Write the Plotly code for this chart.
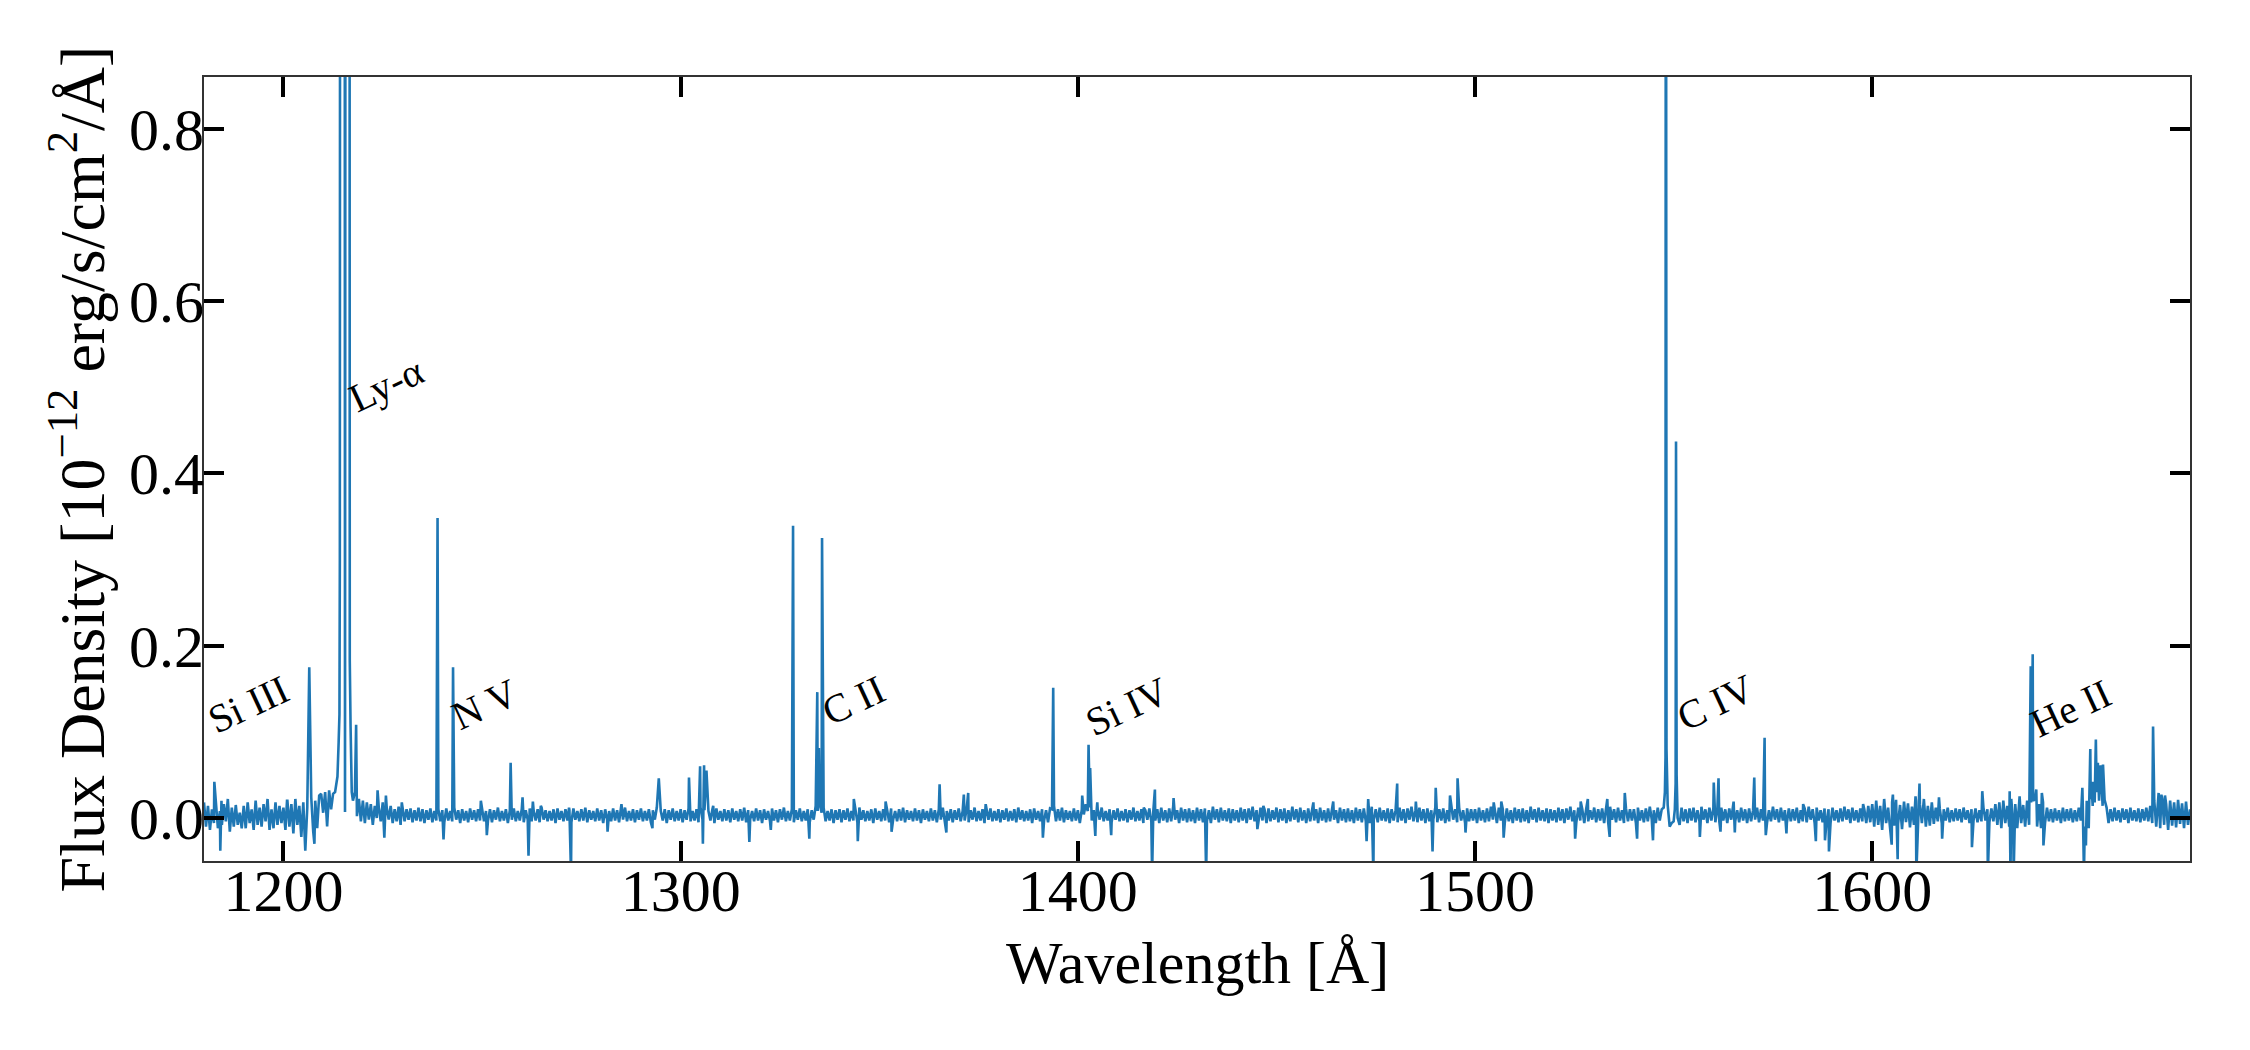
import numpy as np
import plotly.graph_objects as go

# ---------------- data (flux in 10^-12 erg/s/cm^2/A) ----------------
# continuum sampled every 0.5 A from 1180 to 1680 (20 samples per row = 10 A),
# values in units of 10^-15 erg/s/cm^2/A
grid_start = 1180.0
grid_step = 0.5
baseline_1e15 = [
    18, -10, 14, -14, 10, -6, 20, -12, 8, -8, 16, -4, 22, -16, 12, -10, 15, -8, 6, -12,          # 1180
    14, -12, 18, -6, 10, -14, 20, -8, 12, -10, 16, -4, 22, -14, 10, -12, 18, -8, 14, -6,         # 1190
    12, -14, 20, -10, 16, -18, 22, -8, 14, -22, 18, -38, 12, 175, 24, -16, 20, -12, 26, 28,      # 1200
    6, 30, -10, 32, 10, 28, 30, 45, 100, 1200, 1400, 7, 2000, 2000, 70, 20, 30, 2, 22, -4,       # 1210
    20, -6, 18, -2, 16, -8, 14, 0, 12, -4, 18, -10, 12, -2, 14, -6, 10, -4, 13, -8,              # 1220
    12, -4, 10, -2, 11, -5, 9, -3, 12, -4, 10, -6, 9, -2, 11, -5, 8, -3, 10, -4,                 # 1230
    9, -5, 11, -3, 8, -4, 12, -2, 9, -6, 10, -3, 8, -5, 11, -2, 9, -4, 10, -3,                   # 1240
    11, -4, 8, -3, 10, -5, 9, -2, 12, -4, 8, -3, 10, -6, 9, -2, 11, -4, 8, -3,                   # 1250
    10, -5, 9, -2, 11, -4, 8, -3, 10, -5, 12, -2, 9, -4, 8, -3, 10, -6, 11, -2,                  # 1260
    8, -4, 10, -3, 9, -5, 11, -2, 8, -4, 10, -3, 12, -5, 9, -2, 8, -4, 11, -3,                   # 1270
    9, -6, 10, -2, 8, -4, 11, -3, 9, -5, 10, -2, 12, -4, 8, -3, 10, -5, 9, -2,                   # 1280
    11, -4, 8, -3, 10, -5, 9, -2, 12, 46, 8, -3, 10, -6, 9, -2, 11, -4, 8, -3,                   # 1290
    10, -5, 9, -2, 11, -4, 8, -3, 10, -5, 12, -2, 9, 55, 8, -3, 10, -6, 11, -2,                  # 1300
    8, -4, 10, -3, 9, -5, 11, -2, 8, -4, 10, -3, 12, -5, 9, -2, 8, -4, 11, -3,                   # 1310
    9, -6, 10, -2, 8, -4, 11, -3, 9, -5, 10, -2, 12, -4, 8, -3, 10, -5, 9, -2,                   # 1320
    11, -4, 8, -3, 10, -5, 9, -2, 14, 8, 16, 6, 12, -4, 8, -3, 10, -6, 9, -2,                    # 1330
    10, -5, 9, -2, 11, -4, 8, -3, 10, -5, 12, -2, 9, -4, 8, -3, 10, -6, 11, -2,                  # 1340
    8, -4, 10, -3, 9, -5, 11, -2, 8, -4, 10, -3, 12, -5, 9, -2, 8, -4, 11, -3,                   # 1350
    9, -6, 10, -2, 8, -4, 11, -3, 9, -5, 10, -2, 12, -4, 8, -3, 10, -5, 9, -2,                   # 1360
    11, -4, 8, -3, 10, -5, 9, -2, 12, -4, 8, -3, 10, -6, 9, -2, 11, -4, 8, -3,                   # 1370
    10, -5, 9, -2, 11, -4, 8, -3, 10, -5, 12, -2, 9, -4, 8, -3, 10, -6, 11, -2,                  # 1380
    8, -4, 10, -3, 9, -5, 11, 10, 14, -4, 10, -3, 12, -5, 9, -2, 8, -4, 11, -3,                  # 1390
    9, -6, 10, 4, 16, 8, 12, -3, 9, -5, 10, -2, 12, -4, 8, -3, 10, -5, 9, -2,                    # 1400
    11, -4, 8, -3, 10, -5, 9, -2, 12, -4, 8, -3, 10, -6, 9, -2, 11, -4, 8, -3,                   # 1410
    10, -6, 12, -3, 9, -5, 11, -4, 13, -2, 9, -6, 12, -3, 10, -5, 11, -4, 9, -6,                 # 1420
    12, -3, 10, -5, 11, -4, 9, -6, 13, -2, 10, -5, 12, -3, 9, -4, 11, -6, 10, -3,                # 1430
    9, -5, 12, -3, 10, -6, 11, -2, 13, -4, 9, -5, 12, -3, 10, -6, 11, -4, 9, -2,                 # 1440
    12, -5, 10, -3, 11, -6, 9, -4, 13, -2, 10, -5, 12, -3, 9, -6, 11, -4, 10, -3,                # 1450
    10, -6, 12, -3, 9, -5, 11, -4, 13, -2, 9, -6, 12, -3, 10, -5, 11, -4, 9, -6,                 # 1460
    12, -3, 10, -5, 11, -4, 9, -6, 13, -2, 10, -5, 12, -3, 9, -4, 11, -6, 10, -3,                # 1470
    9, -5, 12, -3, 10, -6, 11, -2, 13, -4, 9, -5, 12, -3, 10, -6, 11, -4, 9, -2,                 # 1480
    12, -5, 10, -3, 11, -6, 9, -4, 13, -2, 10, -5, 12, -3, 9, -6, 11, -4, 10, -3,                # 1490
    10, -6, 12, -3, 9, -5, 11, -4, 13, -2, 9, -6, 12, -3, 10, -5, 11, -4, 9, -6,                 # 1500
    12, -3, 10, -5, 11, -4, 9, -6, 13, -2, 10, -5, 12, -3, 9, -4, 11, -6, 10, -3,                # 1510
    9, -5, 12, -3, 10, -6, 11, -2, 13, -4, 9, -5, 12, -3, 10, -6, 11, -4, 9, -2,                 # 1520
    12, -5, 10, -3, 11, -6, 9, -4, 13, -2, 10, -5, 12, -3, 9, -6, 11, -4, 10, -3,                # 1530
    10, -6, 12, -3, 9, -5, 11, -4, 13, -2, 9, -6, 12, -3, 10, 12, 500, 15, -10, -6,              # 1540
    -4, 40, 0, -8, 12, -4, 10, -6, 11, -3, 12, -5, 9, -4, 13, -2, 10, -6, 12, -3,                # 1550
    11, -5, 9, -4, 12, -3, 10, -6, 11, -2, 13, -4, 9, -5, 12, -3, 10, -6, 11, -4,                # 1560
    9, -2, 12, -5, 10, -3, 11, -6, 9, -4, 13, -2, 10, -5, 12, -3, 9, -6, 11, -4,                 # 1570
    10, -3, 12, -6, 9, -4, 11, -5, 13, -2, 10, -6, 12, -3, 9, -5, 11, -4, 10, -6,                # 1580
    12, -3, 9, -5, 11, -4, 13, -2, 10, -6, 12, -3, 9, -5, 11, -4, 10, -6, 14, -5,                # 1590
    16, -10, 20, -8, 14, -14, 22, -6, 12, -12, 18, -9, 21, -7, 15, -13, 19, -5, 17, -11,         # 1600
    13, -8, 20, -12, 16, -6, 22, -10, 14, -9, 18, -7, 12, -4, 11, -6, 10, -3, 12, -5,            # 1610
    9, -4, 11, -3, 10, -5, 12, -2, 9, -6, 10, -3, 11, -5, 9, -4, 12, -3, 10, -5,                 # 1620
    11, -4, 16, -8, 18, -12, 20, -6, 14, -10, 22, -8, 16, -12, 18, -6, 15, -10, 20, -8,          # 1630
    18, 20, 22, -10, 16, -12, 18, -6, 12, -4, 10, -5, 11, -3, 9, -6, 12, -4, 10, -3,             # 1640
    11, -5, 9, -4, 12, -3, 16, -10, 20, -12, 22, 14, 18, 30, 24, 61, 14, 21, 12, -6,             # 1650
    10, -4, 12, -3, 9, -5, 11, -2, 10, -6, 12, -3, 9, -4, 11, -5, 10, -3, 12, -4,                # 1660
    14, -6, 20, -10, 18, -12, 22, -8, 16, -14, 20, -9, 18, -11, 21, -7, 17, -12, 19, -8,         # 1670
    10,                                                                                          # 1680
]

# Ly-alpha core (clipped by the axis), extra samples
lya_wave = [1213.3, 1213.6, 1213.9, 1214.1, 1214.2, 1214.25, 1214.3, 1214.35, 1214.4, 1214.45,
            1214.55, 1214.6, 1214.65, 1214.7, 1214.75, 1214.8, 1214.85, 1214.9, 1214.95, 1215.05,
            1215.1, 1215.15, 1215.2, 1215.25, 1215.3, 1215.38, 1215.62, 1215.7, 1215.75, 1215.8,
            1215.85, 1215.9, 1215.95, 1216.05, 1216.1, 1216.15, 1216.2, 1216.25, 1216.3, 1216.35,
            1216.4, 1216.45, 1216.55, 1216.6, 1216.7, 1216.9, 1217.2]
lya_flux = [0.04, 0.048, 0.088, 0.12, 0.3, 2.5, 1.0, 2.5, 1.2, 2.5,
            2.5, 1.0, 2.5, 1.0, 2.5, 1.2, 2.5, 1.0, 2.5, 2.5,
            1.0, 2.5, 1.2, 2.5, 1.5, 2.0, 2.0, 1.5, 2.5, 1.0,
            2.5, 1.0, 2.5, 2.5, 1.0, 2.5, 1.0, 2.5, 1.0, 2.5,
            1.2, 2.5, 1.0, 2.2, 0.183, 0.106, 0.03]

# C IV doublet, extra samples
civ_wave = [1547.8, 1547.95, 1548.05, 1548.2, 1548.4, 1550.3, 1550.6, 1550.75]
civ_flux = [0.03, 0.07, 1.6, 0.08, 0.02, 0.01, 0.437, 0.05]

# narrow emission lines and single-pixel spikes
spike_wave = [
    1182.6, 1184.1, 1184.4, 1200.9, 1207.8,
    1218.3, 1223.7, 1225.4, 1225.8, 1229.8, 1238.8, 1240.3, 1242.7, 1249.7, 1251.2,
    1257.2, 1260.2, 1261.7, 1262.8, 1264.8, 1271.9, 1272.4, 1281.6, 1285.1, 1292.9, 1294.4,
    1302.1, 1304.9, 1305.6, 1305.9, 1306.4, 1308.2, 1317.3, 1322.7, 1328.3, 1332.4, 1334.4,
    1334.8, 1335.6, 1343.6, 1344.6, 1351.6, 1353.1, 1365.2, 1366.9, 1371.3, 1372.4, 1376.8,
    1391.2, 1393.8, 1401.1, 1402.7, 1403.1, 1404.4, 1404.9, 1408.4, 1416.6, 1418.7, 1419.4,
    1424.1, 1432.3, 1445.2, 1446.7, 1459.3, 1464.3, 1472.7, 1473.1, 1474.4, 1480.4, 1485.1,
    1489.3, 1490.1, 1493.7, 1495.6, 1497.6, 1504.7, 1506.6, 1507.2, 1525.2, 1526.6, 1528.4,
    1533.3, 1533.9, 1537.7, 1540.8, 1544.8, 1556.6, 1560.1, 1561.3, 1561.8, 1565.1, 1565.4,
    1570.3, 1572.9, 1573.2, 1578.4, 1582.6, 1585.8, 1588.1, 1589.1, 1597.7, 1604.9, 1605.2,
    1606.4, 1610.9, 1611.1, 1611.9, 1616.8, 1617.6, 1625.1, 1627.7, 1629.1, 1634.6, 1634.8,
    1635.6, 1637.1, 1639.9, 1640.1, 1640.4, 1641.3, 1642.7, 1643.1, 1652.9, 1653.3, 1653.8,
    1654.9, 1655.3, 1655.6, 1656.3, 1656.8, 1657.1, 1657.8, 1658.1,
    1670.7, 1672.1, 1672.8, 1673.7,
]
spike_flux = [
    0.042, -0.038, 0.020, 0.020, -0.030,
    0.108, 0.032, -0.023, 0.026, 0.018, 0.348, -0.025, 0.175, 0.020, -0.020,
    0.064, 0.024, -0.044, 0.019, 0.014, 0.012, -0.065, -0.016, 0.016, -0.012, 0.046,
    0.047, 0.060, -0.030, 0.061, 0.055, 0.014, -0.028, -0.014, 0.339, -0.024, 0.146,
    0.081, 0.325, 0.022, -0.027, 0.019, -0.016, 0.039, -0.017, 0.027, 0.029, 0.016,
    -0.023, 0.151, 0.026, 0.085, 0.058, -0.021, 0.018, -0.020, 0.012, -0.065, 0.033,
    0.023, -0.065, -0.013, 0.014, 0.018, 0.019, -0.027, 0.022, -0.065, 0.040, 0.019,
    -0.039, 0.035, 0.026, 0.046, -0.017, 0.018, 0.019, -0.023, -0.024, 0.019, 0.022,
    0.022, -0.022, 0.029, -0.024, -0.026, -0.022, 0.041, 0.046, -0.016, 0.019, -0.017,
    0.047, 0.093, -0.020, -0.018, 0.016, -0.027, -0.026, -0.039, 0.016, -0.031, 0.027,
    -0.048, 0.025, -0.065, 0.040, 0.024, -0.024, -0.034, 0.031, -0.065, 0.031, -0.065,
    -0.065, 0.025, 0.176, 0.040, 0.190, 0.033, 0.029, -0.032, 0.035, -0.065, -0.032,
    0.080, 0.030, 0.042, 0.091, 0.064, 0.020, 0.025, 0.062,
    0.106, 0.029, 0.027, 0.026,
]

# line labels
label_text = ["Si III", "Ly-α", "N V", "C II", "Si IV", "C IV", "He II"]
label_wave = [1182.2, 1217.6, 1243.4, 1336.7, 1403.1, 1552.0, 1640.9]
label_flux = [0.084, 0.457, 0.089, 0.094, 0.082, 0.088, 0.080]

x_ticks = [1200, 1300, 1400, 1500, 1600]
y_ticks = [0.0, 0.2, 0.4, 0.6, 0.8]
y_ticktext = ["0.0", "0.2", "0.4", "0.6", "0.8"]

# ---------------- assemble spectrum ----------------
grid_wave = grid_start + grid_step * np.arange(len(baseline_1e15))
grid_flux = np.array(baseline_1e15, dtype=float) * 1e-3
assert len(grid_wave) == 1001 and grid_wave[-1] == 1680.0, (len(grid_wave), grid_wave[-1])
assert len(lya_wave) == len(lya_flux), (len(lya_wave), len(lya_flux))
assert len(spike_wave) == len(spike_flux), (len(spike_wave), len(spike_flux))

wave = np.concatenate([grid_wave, lya_wave, civ_wave, spike_wave])
flux = np.concatenate([grid_flux, lya_flux, civ_flux, spike_flux])
order = np.argsort(wave, kind="stable")
wave = wave[order]
flux = flux[order]

FONT = "Liberation Serif"
M_L, M_R, M_T, M_B = 196, 68, 69, 197

fig = go.Figure()
fig.add_trace(go.Scatter(
    x=wave, y=flux, mode="lines",
    line=dict(color="#1f77b4", width=2.6),
    showlegend=False, hoverinfo="skip",
))

for t, xw, yf in zip(label_text, label_wave, label_flux):
    fig.add_annotation(
        x=xw, y=yf, text=t, showarrow=False, textangle=-25,
        xanchor="left", yanchor="bottom", xshift=-14,
        font=dict(family=FONT, size=40, color="black"),
    )

# x-axis title
fig.add_annotation(
    xref="paper", yref="paper", x=0.5, y=0, yshift=-102,
    xanchor="center", yanchor="middle", showarrow=False,
    text="Wavelength [Å]", font=dict(family=FONT, size=60, color="black"),
)

axis_common = dict(
    showgrid=False, zeroline=False,
    showline=True, linecolor="#333333", linewidth=2, mirror="ticks",
    ticks="inside", ticklen=20, tickwidth=4, tickcolor="black",
    tickfont=dict(family=FONT, size=60, color="black"),
)

fig.update_layout(
    width=2250, height=1050,
    margin=dict(l=M_L, r=M_R, t=M_T, b=M_B),
    paper_bgcolor="white", plot_bgcolor="white",
    xaxis=dict(
        range=[1180, 1680], tickvals=x_ticks,
        ticktext=[str(v) for v in x_ticks],
        ticklabelstandoff=-24,
        **axis_common,
    ),
    yaxis=dict(
        range=[-0.05, 0.86], tickvals=y_ticks, ticktext=y_ticktext,
        title=dict(text="Flux Density [10<sup>−12</sup> erg/s/cm<sup>2</sup>/Å]",
                   font=dict(family=FONT, size=64, color="black"), standoff=4),
        ticklabelstandoff=-14,
        **axis_common,
    ),
)

fig.write_html("out.html")
